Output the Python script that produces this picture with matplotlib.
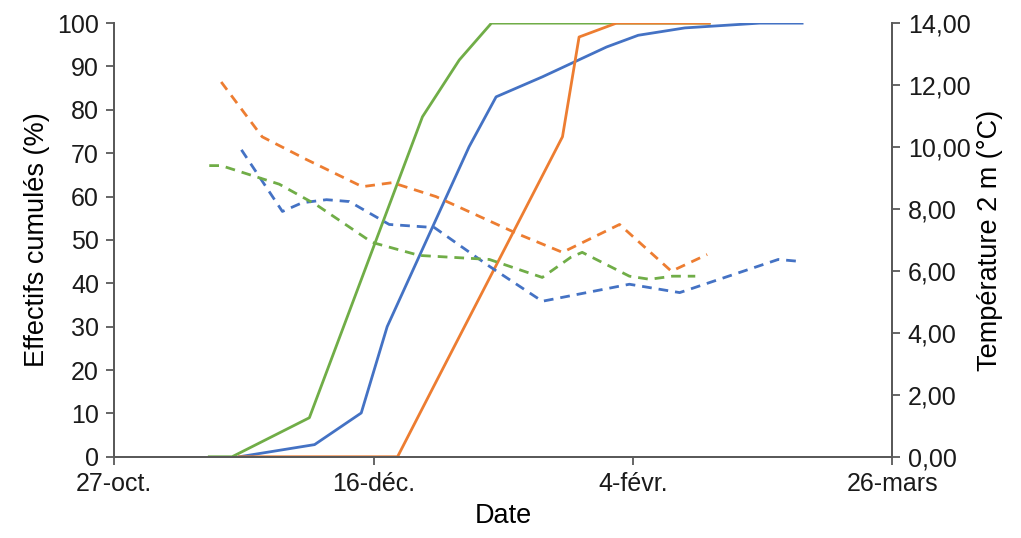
import datetime as dt
import matplotlib
matplotlib.use("Agg")
import matplotlib.pyplot as plt
from matplotlib.ticker import FuncFormatter

start = dt.date(2018, 10, 27)

# cumulative percentages (left axis): day offsets from 27-oct and values
green_days = [18.3, 22.7, 37.6, 59.4, 66.5, 72.7, 114.7]
green_pct = [0, 0, 9, 78.4, 91.5, 100, 100]

blue_days = [24.1, 38.6, 47.6, 52.6, 68.4, 73.6, 82.5, 94.9, 101, 110, 124.4, 132.6]
blue_pct = [0, 2.8, 10.1, 30, 71.5, 83, 87.6, 94.5, 97.2, 98.9, 100, 100]

orange_days = [24.1, 54.6, 61.3, 86.4, 89.6, 96.8, 114.7]
orange_pct = [0, 0, 15.6, 73.8, 96.8, 100, 100]

# temperature at 2 m (right axis)
orange_t_days = [20.6, 28.5, 37, 47.8, 53.6, 62, 78, 86.4, 97.4, 107.4, 114.3]
orange_t = [12.1, 10.33, 9.6, 8.72, 8.85, 8.4, 7.18, 6.6, 7.5, 5.99, 6.53]

blue_t_days = [24.5, 32.4, 36.2, 40.9, 45.3, 53, 61.7, 72.3, 82.5, 99.3, 109, 128, 132.6]
blue_t = [9.91, 7.92, 8.2, 8.3, 8.24, 7.5, 7.4, 6.15, 5.02, 5.57, 5.3, 6.37, 6.3]

green_t_days = [18.3, 20.6, 31.8, 38.9, 49.7, 58.8, 72.3, 82.5, 88, 90.2, 99.3, 103.2, 107.6, 112]
green_t = [9.4, 9.4, 8.8, 8.14, 6.92, 6.5, 6.37, 5.79, 6.44, 6.6, 5.83, 5.73, 5.83, 5.83]

tick_days = [0, 50, 100, 150]
tick_labels = ["27-oct.", "16-déc.", "4-févr.", "26-mars"]


def to_dates(days):
    return [dt.datetime.combine(start, dt.time()) + dt.timedelta(days=d) for d in days]


plt.rcParams['font.family'] = ['Liberation Sans', 'DejaVu Sans']
plt.rcParams['font.size'] = 18

c_blue = '#4472C4'
c_orange = '#ED7D31'
c_green = '#70AD47'
c_axis = '#595959'

fig = plt.figure(figsize=(10.21, 5.38), dpi=100)
ax = fig.add_axes([0.112, 0.151, 0.762, 0.806])
ax2 = ax.twinx()

lw = 2.0
ax.plot(to_dates(green_days), green_pct, color=c_green, lw=lw)
ax.plot(to_dates(blue_days), blue_pct, color=c_blue, lw=lw)
ax.plot(to_dates(orange_days), orange_pct, color=c_orange, lw=lw)

dash = (3.5, 2.5)
ax2.plot(to_dates(orange_t_days), orange_t, color=c_orange, lw=lw, dashes=dash)
ax2.plot(to_dates(blue_t_days), blue_t, color=c_blue, lw=lw, dashes=dash)
ax2.plot(to_dates(green_t_days), green_t, color=c_green, lw=lw, dashes=dash)

ax.set_xlim(to_dates([0])[0], to_dates([150])[0])
ax.set_xticks(to_dates(tick_days))
ax.set_xticklabels(tick_labels)
ax.set_ylim(0, 100)
ax.set_yticks(range(0, 101, 10))
ax2.set_ylim(0, 14)
ax2.set_yticks(range(0, 15, 2))
ax2.yaxis.set_major_formatter(FuncFormatter(lambda v, p: f"{v:.2f}".replace('.', ',')))

for a in (ax, ax2):
    a.spines['top'].set_visible(False)
    for s in ('left', 'right', 'bottom'):
        a.spines[s].set_color(c_axis)
        a.spines[s].set_linewidth(1.3)
    a.tick_params(color=c_axis, length=6, width=1.3, labelcolor='#1a1a1a', pad=5)

ax.set_xlabel("Date", labelpad=5, fontsize=19.5)
ax.set_ylabel("Effectifs cumulés (%)", labelpad=5, fontsize=19.5)
ax2.set_ylabel("Température 2 m (°C)", labelpad=5, fontsize=19.5)

fig.savefig("out.png", dpi=100)
